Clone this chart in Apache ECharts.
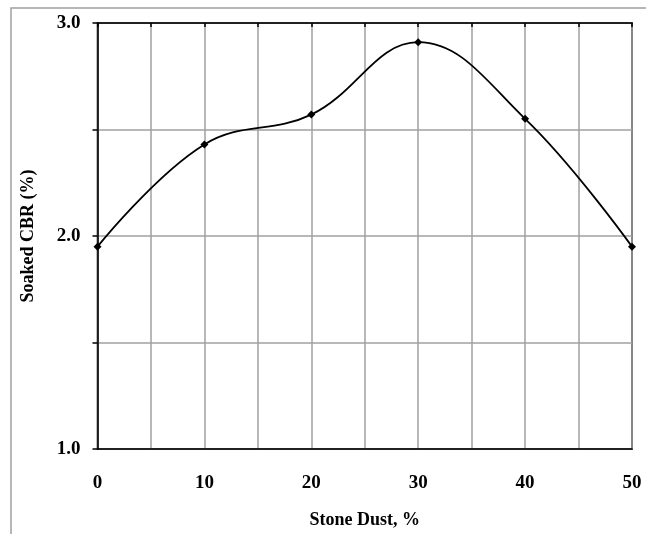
<!DOCTYPE html>
<html>
<head>
<meta charset="utf-8">
<script src="https://cdn.jsdelivr.net/npm/echarts@6/dist/echarts.min.js"></script>
<style>html,body{margin:0;padding:0;background:#fff}#c{width:646px;height:534px}</style>
</head>
<body>
<div id="c"></div>
<script>
var stoneDust = [0, 10, 20, 30, 40, 50];
var soakedCBR = [1.95, 2.43, 2.57, 2.91, 2.55, 1.95];
var xTitle = 'Stone Dust, %';
var yTitle = 'Soaked CBR (%)';

var chart = echarts.init(document.getElementById('c'));
var font = '"Liberation Serif", "Times New Roman", serif';
var pts = stoneDust.map(function (x, i) { return [x, soakedCBR[i]]; });

chart.setOption({
  animation: false,
  backgroundColor: '#fff',
  graphic: [{
    type: 'polyline',
    shape: { points: [[11, 534], [11, 8], [646, 8]] },
    style: { stroke: '#a0a0a0', lineWidth: 1.5, fill: null },
    silent: true
  }],
  grid: { left: 97.5, right: 14, top: 23, bottom: 85, show: true, borderColor: '#000', borderWidth: 1.5 },
  xAxis: [{
    type: 'value', min: 0, max: 50, interval: 5, position: 'bottom',
    name: xTitle, nameLocation: 'middle', nameGap: 62,
    nameTextStyle: { fontFamily: font, fontWeight: 'bold', fontSize: 18, color: '#000' },
    axisLine: { show: true, lineStyle: { color: '#000', width: 1.5 } },
    axisTick: { show: false },
    axisLabel: {
      margin: 25, fontFamily: font, fontWeight: 'bold', fontSize: 19, color: '#000',
      formatter: function (v) { return v % 10 === 0 ? String(v) : ''; }
    },
    splitLine: { show: true, lineStyle: { color: '#a0a0a0', width: 1.5 } }
  }, {
    type: 'value', min: 0, max: 50, interval: 5, position: 'top',
    axisLine: { show: true, lineStyle: { color: '#000', width: 1.5 } },
    axisTick: { show: true, inside: true, length: 4, lineStyle: { color: '#000', width: 1.5 } },
    axisLabel: { show: false },
    splitLine: { show: false }
  }],
  yAxis: {
    type: 'value', min: 1, max: 3, interval: 0.5,
    name: yTitle, nameLocation: 'middle', nameGap: 60, nameRotate: 90,
    nameTextStyle: { fontFamily: font, fontWeight: 'bold', fontSize: 18, color: '#000' },
    axisLine: { show: true, lineStyle: { color: '#000', width: 1.5 } },
    axisTick: { show: true, length: 5, lineStyle: { color: '#000', width: 1.5 } },
    axisLabel: {
      margin: 17, fontFamily: font, fontWeight: 'bold', fontSize: 19, color: '#000',
      formatter: function (v) { return Math.abs(v - Math.round(v)) < 1e-9 ? v.toFixed(1) : ''; }
    },
    splitLine: { show: true, lineStyle: { color: '#a0a0a0', width: 1.5 } }
  },
  series: [{
    type: 'line', data: pts, smooth: 0.4,
    symbol: 'diamond', symbolSize: 8,
    itemStyle: { color: '#000' },
    lineStyle: { color: '#000', width: 1.8 }
  }]
});
</script>
</body>
</html>
